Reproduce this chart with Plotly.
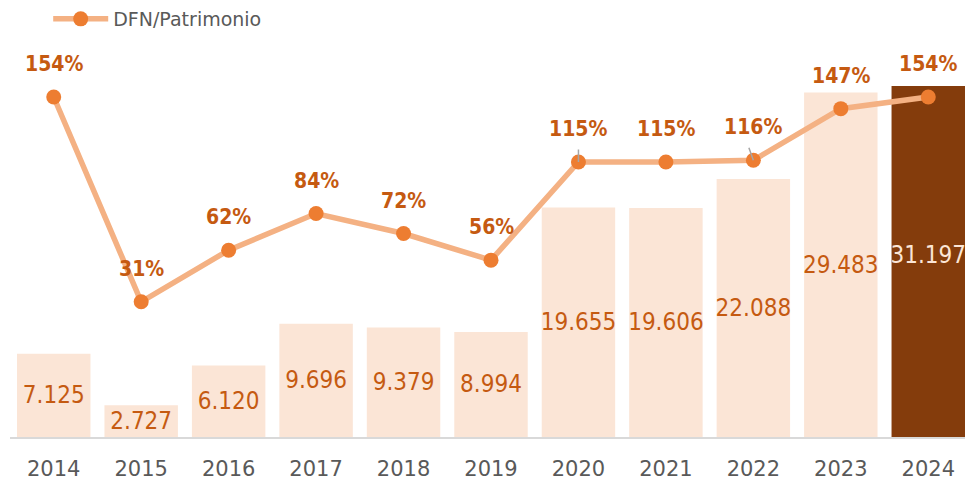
import plotly.graph_objects as go

years = ["2014", "2015", "2016", "2017", "2018", "2019", "2020", "2021", "2022", "2023", "2024"]
dfn = [7125, 2727, 6120, 9696, 9379, 8994, 19655, 19606, 22088, 29483, 31197]
ratio = [154, 31, 62, 84, 72, 56, 115, 115, 116, 147, 154]
leader_years = ["2020", "2022"]

LIGHT = "#FBE5D6"
DARK = "#843C0C"
ORANGE_TXT = "#C55A11"
LINE_C = "#F4B183"
MARK_C = "#ED7D31"
GRAY = "#595959"

bar_colors = [LIGHT] * (len(years) - 1) + [DARK]
bar_txt_colors = [ORANGE_TXT] * (len(years) - 1) + [LIGHT]
bar_text = [f"{v:,}".replace(",", ".") for v in dfn]

fig = go.Figure()
fig.add_trace(go.Bar(
    x=years, y=dfn, marker_color=bar_colors, marker_line_width=0,
    text=bar_text, textposition="inside", insidetextanchor="middle",
    textangle=0, constraintext="none",
    insidetextfont=dict(family="DejaVu Sans Condensed, DejaVu Sans", size=24, color=bar_txt_colors),
    showlegend=False, hoverinfo="skip",
))
fig.add_trace(go.Scatter(
    x=years, y=ratio, yaxis="y2", mode="lines+markers", name="DFN/Patrimonio",
    line=dict(color=LINE_C, width=5.5),
    marker=dict(color=MARK_C, size=15),
))

for i, r in enumerate(ratio):
    fig.add_annotation(x=i, xref="x", y=r, yref="y2", text=f"<b>{r}%</b>", showarrow=False,
                       yshift=33, font=dict(family="DejaVu Sans Condensed, DejaVu Sans", size=21, color=ORANGE_TXT))

for yr in leader_years:
    i = years.index(yr)
    fig.add_annotation(x=i, xref="x", y=ratio[i], yref="y2", text="", showarrow=True,
                       arrowhead=0, arrowwidth=1.5, arrowcolor="#A6A6A6",
                       ax=(0 if yr == "2020" else -5), ay=-14, standoff=0, startstandoff=0)

fig.update_layout(
    width=965, height=481,
    margin=dict(l=10, r=0, t=86, b=42),
    plot_bgcolor="white", paper_bgcolor="white",
    bargap=0.16,
    xaxis=dict(type="category", range=[-0.5, 10.42], showgrid=False, showline=True,
               linecolor="#D9D9D9", linewidth=2, ticks="", ticklabelstandoff=12,
               tickfont=dict(family="DejaVu Sans", size=21, color=GRAY)),
    yaxis=dict(range=[0, 30050], visible=False, showgrid=False),
    yaxis2=dict(range=[-50.2, 160.6], overlaying="y", visible=False, showgrid=False),
    legend=dict(x=0.04, y=1 - 19 / 481, xref="paper", yref="container",
                xanchor="left", yanchor="middle", orientation="h",
                font=dict(family="DejaVu Sans", size=19, color=GRAY), itemwidth=55,
                bgcolor="rgba(0,0,0,0)"),
)

fig.write_html("out.html", config={"displayModeBar": False},
               post_script="document.body.style.margin='0';")
